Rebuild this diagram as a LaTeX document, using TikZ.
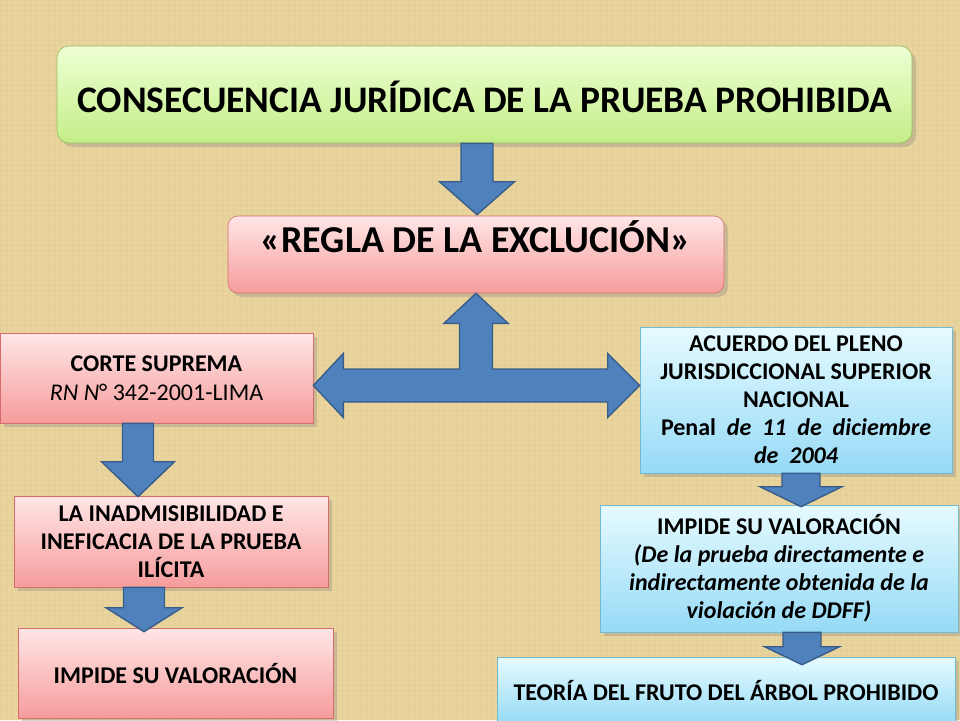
\documentclass[tikz,border=0pt]{standalone}
\usepackage{fontspec}
\setmainfont{Carlito}
\usetikzlibrary{shapes,%
                calc,%
                shadows,%
                positioning}

\definecolor{paper}{RGB}{233,212,158}
\definecolor{grain}{RGB}{176,146,88}
\definecolor{greentop}{RGB}{238,255,212}
\definecolor{greenbot}{RGB}{196,238,136}
\definecolor{greenline}{RGB}{150,190,95}
\definecolor{pinktop}{RGB}{255,230,230}
\definecolor{pinkbot}{RGB}{246,156,156}
\definecolor{pinkline}{RGB}{214,108,108}
\definecolor{bluetop}{RGB}{230,251,255}
\definecolor{bluebot}{RGB}{150,218,246}
\definecolor{blueline}{RGB}{112,186,212}
\definecolor{arrowfill}{RGB}{79,129,189}
\definecolor{arrowline}{RGB}{56,93,138}

\begin{document}
\begin{tikzpicture}[x=1pt, y=-1pt,
box/.style={rectangle, inner sep=0pt,
drop shadow={shadow xshift=4pt, shadow yshift=-4pt, opacity=0.3}},
%
headbox/.style={box, rounded corners=12pt, draw=greenline, top color=greentop,
bottom color=greenbot, font=\fontsize{37.5}{40}\selectfont\bfseries},
%
rulebox/.style={box, rounded corners=10pt, draw=pinkline, top color=pinktop,
bottom color=pinkbot, font=\fontsize{38}{40}\selectfont\bfseries},
%
pinkbox/.style={box, draw=pinkline, top color=pinktop, bottom color=pinkbot,
align=center, font=\fontsize{24}{28}\selectfont},
%
bluebox/.style={box, draw=blueline, top color=bluetop, bottom color=bluebot,
align=center, font=\fontsize{24}{28}\selectfont\bfseries},
%
blockarrow/.style={fill=arrowfill, draw=arrowline, line width=1.4pt, line join=miter}]

\tikzset{every path/.style={line width=.6pt}}

\useasboundingbox (0,0) rectangle (960,720);

% paper background
\fill[paper] (0,0) rectangle (960,720);
\foreach \i in {0,6,...,960}
  \draw[grain, opacity=.07] (\i,0) -- (\i,720);
\foreach \j in {0,5,...,720}
  \draw[grain, opacity=.05] (0,\j) -- (960,\j);

% boxes
\node[headbox, minimum width=855pt, text height=66pt, text depth=31pt] (title)
  at (484.5,94.5) {CONSECUENCIA JURÍDICA DE LA PRUEBA PROHIBIDA};

\node[rulebox, minimum width=496pt, text height=36pt, text depth=41pt] (regla)
  at (476,254.5) {«REGLA DE LA EXCLUCIÓN»};

\node[pinkbox, minimum width=313pt, minimum height=90pt] (corte)
  at (156.5,378) {\textbf{CORTE SUPREMA}\\[1pt] \textit{RN N}° 342-2001-LIMA};

\node[bluebox, minimum width=312pt, minimum height=146pt] (acuerdo)
  at (796,400) {ACUERDO DEL PLENO\\ JURISDICCIONAL SUPERIOR\\ NACIONAL\\
  \makebox[270pt][s]{Penal \textit{de 11 de diciembre}}\\ \textit{de\ \ 2004}};

\node[pinkbox, minimum width=314pt, minimum height=91pt, font=\fontsize{24}{28}\selectfont\bfseries] (inad)
  at (171,541.5) {LA INADMISIBILIDAD\ E\\ INEFICACIA DE LA PRUEBA\\ ILÍCITA};

\node[pinkbox, minimum width=315pt, minimum height=90pt, font=\fontsize{24}{28}\selectfont\bfseries] (impideA)
  at (175.5,673) {IMPIDE SU VALORACIÓN};

\node[bluebox, minimum width=358pt, minimum height=127pt] (impideB)
  at (779,568.5) {IMPIDE SU VALORACIÓN\\ \textit{(De la prueba directamente e}\\
  \textit{indirectamente obtenida de la}\\ \textit{violación de DDFF)}};

\node[bluebox, minimum width=458pt, minimum height=66pt] (teoria)
  at (726,690) {TEORÍA DEL FRUTO DEL ÁRBOL PROHIBIDO};

% down arrows
\foreach \from/\to/\ax/\sw/\hw/\hl/\tip in {title/regla/477/16/37.5/33/-1,
    corte/inad/138/15.5/36.5/35/1, inad/impideA/144/20.5/38/24/4,
    acuerdo/impideB/801/19/41/20/2, impideB/teoria/802/19/37.5/18/8}{
  \coordinate (ax) at (\ax,0);
  \draw[blockarrow] ($(\from.south -| ax)+(-\sw,0)$)
    -- ($(\to.north -| ax)+(-\sw,\tip-\hl)$)
    -- ($(\to.north -| ax)+(-\hw,\tip-\hl)$)
    -- ($(\to.north -| ax)+(0,\tip)$)
    -- ($(\to.north -| ax)+(\hw,\tip-\hl)$)
    -- ($(\to.north -| ax)+(\sw,\tip-\hl)$)
    -- ($(\from.south -| ax)+(\sw,0)$) -- cycle;
}

% three way arrow
\coordinate (hub) at (476,385.5);
\draw[blockarrow] (regla.south)
  -- ($(regla.south)+(32,30)$) -- ($(regla.south)+(16.5,30)$)
  -- ($(hub)+(16.5,-16.5)$)
  -- ($(acuerdo.west |- hub)+(-32,-16.5)$) -- ($(acuerdo.west |- hub)+(-32,-32)$)
  -- (acuerdo.west |- hub)
  -- ($(acuerdo.west |- hub)+(-32,32)$) -- ($(acuerdo.west |- hub)+(-32,16.5)$)
  -- ($(corte.east |- hub)+(30,16.5)$) -- ($(corte.east |- hub)+(30,32)$)
  -- (corte.east |- hub)
  -- ($(corte.east |- hub)+(30,-32)$) -- ($(corte.east |- hub)+(30,-16.5)$)
  -- ($(hub)+(-16.5,-16.5)$)
  -- ($(regla.south)+(-16.5,30)$) -- ($(regla.south)+(-32,30)$) -- cycle;

\end{tikzpicture}
\end{document}
